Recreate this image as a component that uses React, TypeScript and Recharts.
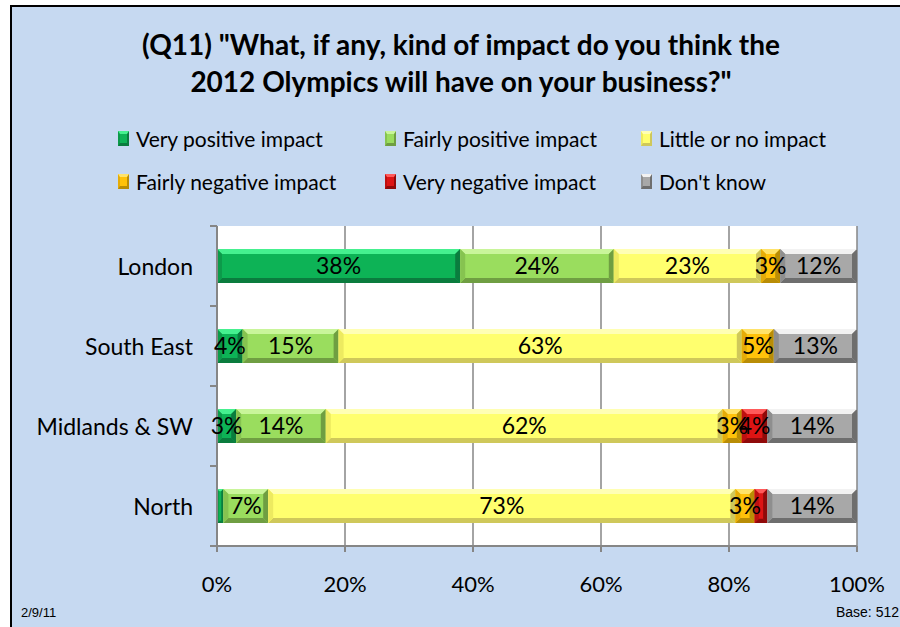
import { BarChart, Bar, XAxis, YAxis, CartesianGrid, LabelList } from 'recharts'

const regions = ['London', 'South East', 'Midlands & SW', 'North']
const veryPositive = [38, 4, 3, 1]
const fairlyPositive = [24, 15, 14, 7]
const littleOrNone = [23, 63, 62, 73]
const fairlyNegative = [3, 5, 3, 3]
const veryNegative = [0, 0, 4, 2]
const dontKnow = [12, 13, 14, 14]
const xTicks = [0, 20, 40, 60, 80, 100]

const FONT = 'Lato, "Open Sans", sans-serif'

// series key, legend name, base / light / dark / side colours
const series = [
  { key: 'vp', name: 'Very positive impact', values: veryPositive, base: '#0DB356', light: '#45F08F', dark: '#0A7C3E', side: '#0C9A4A' },
  { key: 'fp', name: 'Fairly positive impact', values: fairlyPositive, base: '#9ADD5E', light: '#C9F59A', dark: '#6F9E42', side: '#86C350' },
  { key: 'ln', name: 'Little or no impact', values: littleOrNone, base: '#FFFF6E', light: '#FFFFB4', dark: '#CFC85A', side: '#EDEA60' },
  { key: 'fn', name: 'Fairly negative impact', values: fairlyNegative, base: '#FFC20A', light: '#FFE36A', dark: '#B98D06', side: '#E5AC08' },
  { key: 'vn', name: 'Very negative impact', values: veryNegative, base: '#DD1414', light: '#FF5A5A', dark: '#8F0A0A', side: '#BD1010' },
  { key: 'dk', name: "Don't know", values: dontKnow, base: '#A8A8A8', light: '#F2F2F2', dark: '#6E6E6E', side: '#8E8E8E' },
]

const chartData = regions.map((name, i) => {
  const row: any = { name }
  series.forEach((s) => { row[s.key] = s.values[i] })
  return row
})

const PLOT_TOP = 226
const PLOT_BOTTOM = 546
const PLOT_LEFT = 217
const PLOT_RIGHT = 857
const BAND = (PLOT_BOTTOM - PLOT_TOP) / regions.length

// Excel-ish bevelled bar
const bevel = (s: any) => (props: any) => {
  const { x, y, width, height } = props
  if (!width || width <= 0) return <g />
  const e = Math.min(5, width / 3)
  return (
    <g>
      <rect x={x} y={y} width={width} height={height} fill={s.base} />
      <polygon points={`${x},${y} ${x + width},${y} ${x + width - e},${y + e} ${x + e},${y + e}`} fill={s.light} />
      <polygon points={`${x},${y + height} ${x + width},${y + height} ${x + width - e},${y + height - e} ${x + e},${y + height - e}`} fill={s.dark} />
      <polygon points={`${x},${y} ${x + e},${y + e} ${x + e},${y + height - e} ${x},${y + height}`} fill={s.side} />
      <polygon points={`${x + width},${y} ${x + width - e},${y + e} ${x + width - e},${y + height - e} ${x + width},${y + height}`} fill={s.dark} />
    </g>
  )
}

const CategoryTick = (props: any) => {
  const { x, y, payload, index } = props
  const axisX = x + 24
  return (
    <g>
      <text x={x} y={y} textAnchor="end" dominantBaseline="central" fontSize={23} fontFamily={FONT} fill="#000">
        {payload.value}
      </text>
      <line x1={axisX - 7} x2={axisX} y1={y - BAND / 2} y2={y - BAND / 2} stroke="#868686" strokeWidth={2} />
      {index === regions.length - 1 && (
        <line x1={axisX - 7} x2={axisX} y1={y + BAND / 2} y2={y + BAND / 2} stroke="#868686" strokeWidth={2} />
      )}
    </g>
  )
}

const legendCols = [118, 385, 641]
const legendRows = [138, 181]

export default function App() {
  return (
    <div style={{ position: 'fixed', left: 0, top: 0, width: 900, height: 627, background: '#fff', overflow: 'hidden' }}>
      <div
        style={{
          position: 'absolute', left: 10, top: 5, width: 900, height: 640,
          background: '#C6D9F1', borderLeft: '2px solid #000', borderTop: '2px solid #000',
        }}
      />
      <div style={{ position: 'absolute', left: 0, top: 0 }}>
        <BarChart
          width={900}
          height={627}
          data={chartData}
          layout="vertical"
          margin={{ top: PLOT_TOP, bottom: 627 - PLOT_BOTTOM - 40, left: PLOT_LEFT - 200, right: 900 - PLOT_RIGHT }}
          barSize={34}
        >
          <CartesianGrid horizontal={false} stroke="#868686" strokeWidth={1.5} fill="#fff" />
          <XAxis
            type="number"
            domain={[0, 100]}
            ticks={xTicks}
            tickFormatter={(v: number) => `${v}%`}
            height={40}
            axisLine={{ stroke: '#868686', strokeWidth: 2 }}
            tickLine={{ stroke: '#868686', strokeWidth: 2 }}
            tickSize={6}
            tickMargin={24}
            tick={{ fontSize: 22, fontFamily: FONT, fill: '#000' }}
          />
          <YAxis
            type="category"
            dataKey="name"
            width={200}
            axisLine={{ stroke: '#868686', strokeWidth: 2 }}
            tickLine={false}
            tickSize={6}
            tickMargin={18}
            tick={<CategoryTick />}
          />
          {series.map((s) => (
            <Bar key={s.key} dataKey={s.key} name={s.name} stackId="a" fill={s.base} shape={bevel(s)} isAnimationActive={false}>
              <LabelList
                dataKey={s.key}
                position="center"
                formatter={(v: any) => (v >= 3 ? `${v}%` : '')}
                fill="#000"
                fontSize={23}
                fontFamily={FONT}
              />
            </Bar>
          ))}
        </BarChart>
      </div>

      {/* title */}
      <div
        style={{
          position: 'absolute', left: 0, width: 922, top: 26, textAlign: 'center',
          fontFamily: FONT, fontWeight: 700, fontSize: 28, lineHeight: '37px', color: '#000',
        }}
      >
        (Q11) "What, if any, kind of impact do you think the
        <br />
        2012 Olympics will have on your business?"
      </div>

      {/* legend */}
      {series.map((s, i) => (
        <div
          key={s.key}
          style={{
            position: 'absolute', left: legendCols[i % 3], top: legendRows[Math.floor(i / 3)] - 13,
            height: 26, display: 'flex', alignItems: 'center', fontFamily: FONT, fontSize: 21, color: '#000',
          }}
        >
          <span
            style={{
              display: 'inline-block', width: 7, height: 9, marginRight: 7, background: s.base,
              borderTop: `3px solid ${s.light}`, borderBottom: `3px solid ${s.dark}`,
              borderLeft: `2px solid ${s.side}`, borderRight: `2px solid ${s.dark}`,
            }}
          />
          {s.name}
        </div>
      ))}

      <div style={{ position: 'absolute', left: 21, top: 605, fontFamily: '"Liberation Sans", Arial, sans-serif', fontSize: 13 }}>2/9/11</div>
      <div style={{ position: 'absolute', right: 1, top: 604, fontFamily: '"Liberation Sans", Arial, sans-serif', fontSize: 14 }}>Base: 512</div>
    </div>
  )
}
